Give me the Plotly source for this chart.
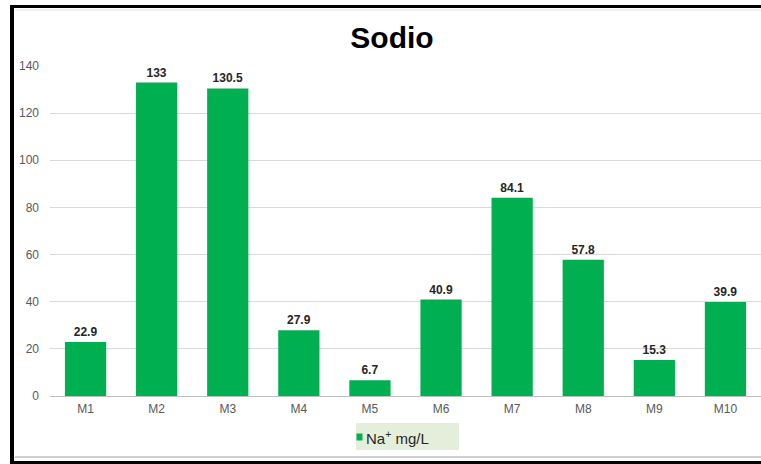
import plotly.graph_objects as go

# Sodium concentration per sample
muestras = ["M1", "M2", "M3", "M4", "M5", "M6", "M7", "M8", "M9", "M10"]
sodio_mg_l = [22.9, 133, 130.5, 27.9, 6.7, 40.9, 84.1, 57.8, 15.3, 39.9]
y_ticks = [0, 20, 40, 60, 80, 100, 120, 140]

W, H = 761, 464
L, R, T, B = 50, 0, 66, 68
PW, PH = W - L - R, H - T - B

GREEN = "#00b050"
FONT = "Liberation Sans, Arial, sans-serif"


def px_x(x):
    return (x - L) / PW


def px_y(y):
    return (H - B - y) / PH


fig = go.Figure()
fig.add_trace(go.Bar(
    x=muestras,
    y=sodio_mg_l,
    name="Na<sup>+</sup> mg/L",
    marker=dict(color=GREEN, line=dict(width=0)),
    text=[f"{v:g}" for v in sodio_mg_l],
    textposition="outside",
    textfont=dict(family=FONT, size=12, color="#262626", weight="bold"),
    cliponaxis=False,
    showlegend=False,
))

shapes = [
    # outer black frame (left, top, bottom)
    dict(type="line", xref="paper", yref="paper",
         x0=px_x(12), x1=px_x(12), y0=px_y(6), y1=px_y(462),
         line=dict(color="black", width=4)),
    dict(type="line", xref="paper", yref="paper",
         x0=px_x(10), x1=px_x(761), y0=px_y(6.5), y1=px_y(6.5),
         line=dict(color="black", width=3)),
    dict(type="line", xref="paper", yref="paper",
         x0=px_x(10), x1=px_x(761), y0=px_y(462.5), y1=px_y(462.5),
         line=dict(color="black", width=3)),
    # inner light frame
    dict(type="line", xref="paper", yref="paper",
         x0=px_x(15), x1=px_x(761), y0=px_y(10), y1=px_y(10),
         line=dict(color="#e4e4e4", width=1)),
    dict(type="line", xref="paper", yref="paper",
         x0=px_x(15), x1=px_x(761), y0=px_y(457), y1=px_y(457),
         line=dict(color="#cfcfcf", width=2)),
    # legend box
    dict(type="rect", xref="paper", yref="paper",
         x0=px_x(356), x1=px_x(459), y0=px_y(423), y1=px_y(450),
         fillcolor="#e4efdb", line=dict(width=0), layer="below"),
    dict(type="rect", xref="paper", yref="paper",
         x0=px_x(356.5), x1=px_x(362.5), y0=px_y(433.5), y1=px_y(440.5),
         fillcolor=GREEN, line=dict(width=0)),
]

annotations = [
    dict(text="Na<sup>+</sup> mg/L", xref="paper", yref="paper",
         x=px_x(364), y=px_y(437), xanchor="left", yanchor="middle",
         showarrow=False, font=dict(family=FONT, size=15, color="#262626")),
]

fig.update_layout(
    width=W, height=H,
    margin=dict(l=L, r=R, t=T, b=B, pad=0),
    paper_bgcolor="white",
    plot_bgcolor="white",
    bargap=0.42,
    title=dict(text="<b>Sodio</b>", x=392 / W, xanchor="center",
               y=1 - 37 / H, yanchor="middle",
               font=dict(family=FONT, size=30, color="black")),
    xaxis=dict(showgrid=False, showline=False, ticks="",
               tickfont=dict(family=FONT, size=12, color="#595959"),
               ticklabelstandoff=4),
    yaxis=dict(range=[0, 140], tickvals=y_ticks, showgrid=True,
               gridcolor="#d9d9d9", gridwidth=1, zeroline=True,
               zerolinecolor="#bfbfbf", zerolinewidth=1,
               showline=False, ticks="",
               tickfont=dict(family=FONT, size=12, color="#595959"),
               ticklabelstandoff=10),
    shapes=shapes,
    annotations=annotations,
    showlegend=False,
)

fig.write_html("out.html")
